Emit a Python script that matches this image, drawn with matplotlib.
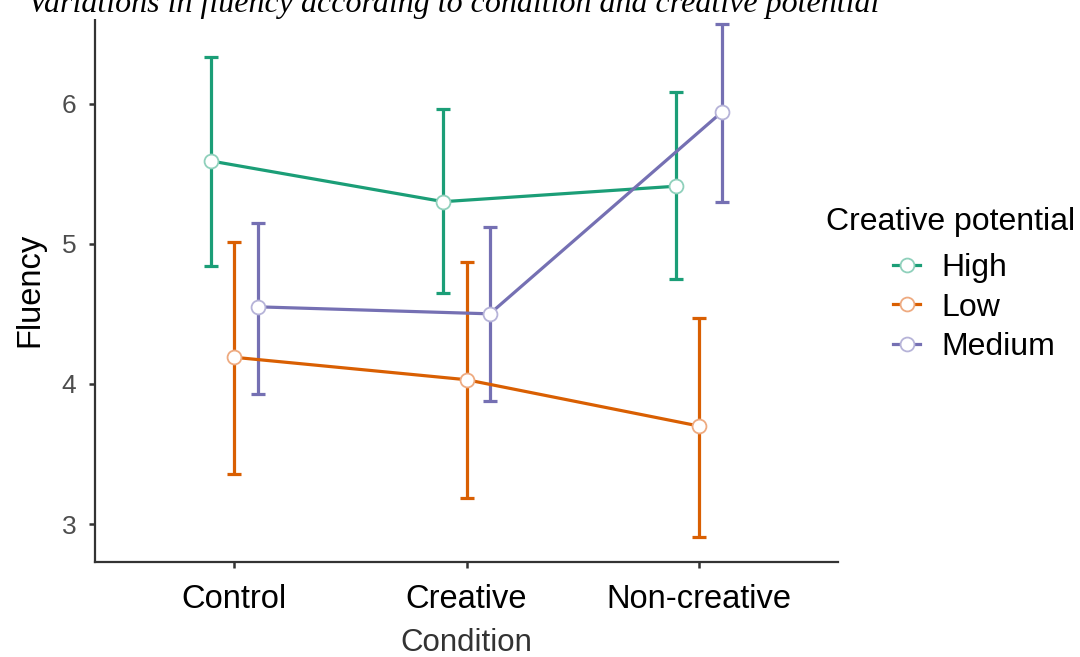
"""
Fluency by condition and creative potential (means with error bars).
"""
import matplotlib
matplotlib.use('Agg')
import matplotlib.pyplot as plt
import numpy as np

plt.rcParams['font.family'] = ['Liberation Sans', 'DejaVu Sans']

condiciones = ['Control', 'Creative', 'Non-creative']
grupos = ['High', 'Low', 'Medium']
colores = ['#1B9E77', '#D95F02', '#7570B3']
bordes = ['#8fd0bb', '#eeaa80', '#b6b3d8']

# medias y limites de los intervalos
media_high = [5.59, 5.30, 5.41]
sup_high = [6.33, 5.96, 6.08]
inf_high = [4.84, 4.65, 4.75]

media_low = [4.19, 4.03, 3.70]
sup_low = [5.01, 4.87, 4.47]
inf_low = [3.36, 3.19, 2.91]

media_medium = [4.55, 4.50, 5.94]
sup_medium = [5.15, 5.12, 6.57]
inf_medium = [3.93, 3.88, 5.30]

medias = [media_high, media_low, media_medium]
superiores = [sup_high, sup_low, sup_medium]
inferiores = [inf_high, inf_low, inf_medium]

fig = plt.figure(figsize=(10.8, 6.57), dpi=100)
ax = fig.add_axes([0.088, 0.1446, 0.688, 0.828])

x = np.arange(len(condiciones))
desplazamientos = [-0.1, 0.0, 0.1]

for g, nombre in enumerate(grupos):
    xs = x + desplazamientos[g]
    m = np.array(medias[g])
    err = [m - np.array(inferiores[g]), np.array(superiores[g]) - m]
    ax.errorbar(xs, m, yerr=err, fmt='none', ecolor=colores[g],
                elinewidth=2.3, capsize=5, capthick=2.3, zorder=2)
    ax.plot(xs, m, color=colores[g], linewidth=2.3, marker='o',
            markersize=10, markerfacecolor='white',
            markeredgecolor=bordes[g], markeredgewidth=1.3,
            label=nombre, zorder=3)

ax.set_xlim(-0.6, 2.6)
ax.set_ylim(2.73, 6.61)
ax.set_xticks(x)
ax.set_xticklabels(condiciones, fontsize=23.5, color='black')
ax.set_yticks([3, 4, 5, 6])
ax.tick_params(axis='both', length=4.5, width=1.8, color='#333333')
ax.tick_params(axis='x', pad=11)
ax.tick_params(axis='y', labelsize=19, labelcolor='#4d4d4d', pad=9)

for lado in ['top', 'right']:
    ax.spines[lado].set_visible(False)
for lado in ['left', 'bottom']:
    ax.spines[lado].set_linewidth(1.6)
    ax.spines[lado].set_color('#333333')

ax.set_xlabel('Condition', fontsize=22.5, color='#333333', labelpad=10)
ax.set_ylabel('Fluency', fontsize=23.5, color='black', labelpad=12)

# leyenda: titulo aparte, entradas sangradas
fig.text(826 / 1080, 1 - 222 / 657, 'Creative potential', fontsize=23,
         ha='left', va='center')
leg = ax.legend(loc='upper left', bbox_to_anchor=(893 / 1080, 1 - 253 / 657),
                bbox_transform=fig.transFigure, frameon=False, fontsize=23,
                handlelength=0.85, handletextpad=0.65, borderpad=0,
                borderaxespad=0, labelspacing=0.3)

fig.text(0.42, 1 - 12 / 657, 'Variations in fluency according to condition and creative potential',
         family=['Liberation Serif', 'DejaVu Serif'], style='italic',
         fontsize=23, ha='center', va='baseline',
         bbox=dict(facecolor='white', edgecolor='none', pad=0))

fig.savefig('out.png', dpi=100)
